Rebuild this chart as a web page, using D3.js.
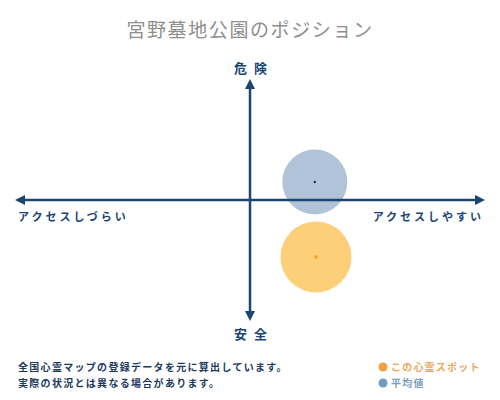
<!DOCTYPE html>
<html>
<head>
<meta charset="utf-8">
<script src="https://d3js.org/d3.v7.min.js"></script>
<style>
  body { margin: 0; background: #fff; }
  text { font-family: "Noto Sans CJK JP", "Noto Sans", sans-serif; }
</style>
</head>
<body>
<div id="chart"></div>
<script>
// chart data
const title = "宮野墓地公園のポジション";
const axisLabels = { top: "危険", bottom: "安全", left: "アクセスしづらい", right: "アクセスしやすい" };
const seriesNames = ["平均値", "この心霊スポット"];
const xValues = [27.7, 28.2];     // access: -100 hard .. 100 easy
const yValues = [15, -47.5];      // danger: -100 safe .. 100 danger
const sizeValues = [32.5, 35.5];
const notes = ["全国心霊マップの登録データを元に算出しています。", "実際の状況とは異なる場合があります。"];
const legendNames = ["この心霊スポット", "平均値"];

const width = 500, height = 400;
const navy = "#1b4673";
const fills = ["#b0c3d8", "#fecf79"];
const dots = ["#1b3050", "#f5a11c"];
const legendDot = ["#f0a040", "#6f9cc4"];
const legendText = ["#e6aa5a", "#7b9dc0"];

const x = d3.scaleLinear().domain([-100, 100]).range([16, 484]);
const y = d3.scaleLinear().domain([-100, 100]).range([320, 80]);
const r = d3.scaleLinear().domain([0, 100]).range([0, 100]);

const svg = d3.select("#chart").append("svg")
    .attr("width", width)
    .attr("height", height);

const defs = svg.append("defs");
defs.append("marker")
    .attr("id", "arrow")
    .attr("viewBox", "0 0 10 10")
    .attr("refX", 5).attr("refY", 5)
    .attr("markerWidth", 4).attr("markerHeight", 4)
    .attr("orient", "auto-start-reverse")
  .append("path")
    .attr("d", "M0,0L10,5L0,10z")
    .attr("fill", navy);

// title
svg.append("text")
    .attr("x", 250).attr("y", 37)
    .attr("text-anchor", "middle")
    .attr("font-size", 19)
    .attr("letter-spacing", 1.6)
    .attr("fill", "#8e8e8e")
    .text(title);

// bubbles (drawn under axes)
const pts = seriesNames.map((n, i) => ({ name: n, x: xValues[i], y: yValues[i], s: sizeValues[i], i }));

svg.append("g").selectAll("circle")
  .data(pts)
  .join("circle")
    .attr("cx", d => x(d.x))
    .attr("cy", d => y(d.y))
    .attr("r", d => r(d.s))
    .attr("fill", d => fills[d.i]);

// axes
const axes = svg.append("g")
    .attr("stroke", navy)
    .attr("stroke-width", 2.5);

axes.append("line")
    .attr("x1", x(-100) + 4).attr("x2", x(100) - 4)
    .attr("y1", y(0)).attr("y2", y(0))
    .attr("marker-start", "url(#arrow)")
    .attr("marker-end", "url(#arrow)");

axes.append("line")
    .attr("x1", x(0)).attr("x2", x(0))
    .attr("y1", y(100) + 4).attr("y2", y(-100) - 4)
    .attr("marker-start", "url(#arrow)")
    .attr("marker-end", "url(#arrow)");

svg.append("g").selectAll("circle")
  .data(pts)
  .join("circle")
    .attr("cx", d => x(d.x))
    .attr("cy", d => y(d.y))
    .attr("r", d => d.i === 0 ? 1.2 : 1.8)
    .attr("fill", d => dots[d.i]);

// axis labels
const lab = svg.append("g")
    .attr("fill", navy)
    .attr("font-weight", "bold");

lab.append("text")
    .attr("x", x(0) + 4).attr("y", 73)
    .attr("text-anchor", "middle")
    .attr("font-size", 13)
    .attr("letter-spacing", 7)
    .text(axisLabels.top);

lab.append("text")
    .attr("x", x(0) + 4).attr("y", 339)
    .attr("text-anchor", "middle")
    .attr("font-size", 13)
    .attr("letter-spacing", 7)
    .text(axisLabels.bottom);

lab.append("text")
    .attr("x", 18).attr("y", 221)
    .attr("font-size", 11)
    .attr("letter-spacing", 3)
    .text(axisLabels.left);

lab.append("text")
    .attr("x", 484).attr("y", 221)
    .attr("text-anchor", "end")
    .attr("font-size", 11)
    .attr("letter-spacing", 3)
    .text(axisLabels.right);

// footnotes
svg.append("g").selectAll("text")
  .data(notes)
  .join("text")
    .attr("x", 18)
    .attr("y", (d, i) => 371 + i * 16)
    .attr("font-size", 10)
    .attr("font-weight", "bold")
    .attr("letter-spacing", 1.3)
    .attr("fill", "#1d3a5e")
    .text(d => d);

// legend
const legend = svg.append("g").selectAll("g")
  .data(legendNames)
  .join("g")
    .attr("transform", (d, i) => `translate(383,${367 + i * 16})`);

legend.append("circle")
    .attr("r", 4.5)
    .attr("fill", (d, i) => legendDot[i]);

legend.append("text")
    .attr("x", 8).attr("y", 4)
    .attr("font-size", 10)
    .attr("font-weight", "bold")
    .attr("letter-spacing", 1.2)
    .attr("fill", (d, i) => legendText[i])
    .text(d => d);
</script>
</body>
</html>
